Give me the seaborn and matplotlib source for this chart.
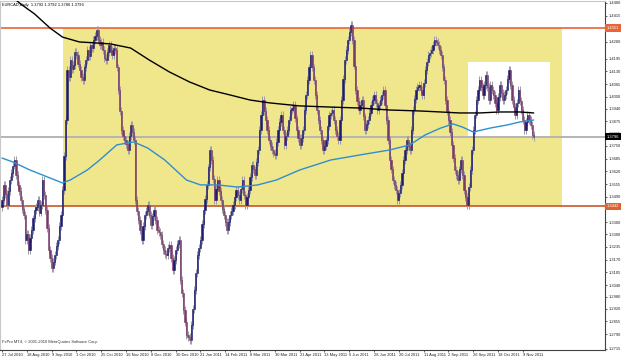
import numpy as np
import pandas as pd
import matplotlib
matplotlib.use("Agg")
import matplotlib.pyplot as plt
import matplotlib.transforms as mtransforms
from matplotlib.patches import Rectangle
import seaborn as sns

# ---------------- data ----------------
symbol_text = "EURCAD,Daily  1.3792 1.3792 1.3786 1.3796"
copyright_text = "FxPro MT4, \u00a9 2001-2010 MetaQuotes Software Corp."

first_open = 1.3440
closes = [
    1.3474, 1.3551, 1.3505, 1.3449, 1.3520, 1.3576, 1.3610, 1.3650, 1.3678, 1.3600, 1.3551, 1.3520, 1.3474, 1.3430, 1.3398, 1.3270,
    1.3300, 1.3219, 1.3280, 1.3321, 1.3380, 1.3423, 1.3440, 1.3474, 1.3410, 1.3449, 1.3576, 1.3500, 1.3423, 1.3330, 1.3219, 1.3180,
    1.3127, 1.3160, 1.3194, 1.3240, 1.3270, 1.3340, 1.3398, 1.3525, 1.3700, 1.3882, 1.4137, 1.4100, 1.4188, 1.4140, 1.4163, 1.4230,
    1.4214, 1.4170, 1.4137, 1.4100, 1.4086, 1.4150, 1.4188, 1.4239, 1.4210, 1.4265, 1.4250, 1.4290, 1.4310, 1.4341, 1.4290, 1.4265,
    1.4280, 1.4239, 1.4200, 1.4188, 1.4230, 1.4265, 1.4240, 1.4214, 1.4250, 1.4239, 1.4150, 1.4035, 1.3930, 1.3831, 1.3800, 1.3780,
    1.3760, 1.3729, 1.3800, 1.3857, 1.3820, 1.3780, 1.3474, 1.3420, 1.3372, 1.3320, 1.3270, 1.3340, 1.3398, 1.3420, 1.3449, 1.3400,
    1.3347, 1.3390, 1.3423, 1.3370, 1.3321, 1.3310, 1.3296, 1.3250, 1.3219, 1.3200, 1.3194, 1.3230, 1.3245, 1.3180, 1.3117, 1.3170,
    1.3219, 1.3250, 1.3270, 1.3066, 1.3000, 1.2913, 1.2850, 1.2786, 1.2775, 1.2760, 1.2837, 1.2920, 1.3015, 1.3100, 1.3194, 1.3230,
    1.3270, 1.3350, 1.3423, 1.3480, 1.3551, 1.3640, 1.3729, 1.3678, 1.3580, 1.3474, 1.3530, 1.3576, 1.3520, 1.3474, 1.3430, 1.3398,
    1.3360, 1.3321, 1.3360, 1.3398, 1.3420, 1.3449, 1.3490, 1.3525, 1.3500, 1.3474, 1.3530, 1.3576, 1.3500, 1.3449, 1.3490, 1.3525,
    1.3590, 1.3653, 1.3630, 1.3602, 1.3670, 1.3729, 1.3831, 1.3910, 1.3984, 1.3930, 1.3882, 1.3830, 1.3780, 1.3750, 1.3729, 1.3715,
    1.3704, 1.3770, 1.3831, 1.3870, 1.3908, 1.3830, 1.3755, 1.3800, 1.3831, 1.3880, 1.3933, 1.3945, 1.3959, 1.3890, 1.3831, 1.3790,
    1.3755, 1.3790, 1.3831, 1.3933, 1.4010, 1.4086, 1.4150, 1.4214, 1.4150, 1.4086, 1.4010, 1.3933, 1.3880, 1.3831, 1.3780, 1.3729,
    1.3750, 1.3780, 1.3850, 1.3908, 1.3920, 1.3933, 1.3880, 1.3831, 1.3800, 1.3780, 1.3880, 1.3984, 1.4090, 1.4188, 1.4240, 1.4290,
    1.4330, 1.4367, 1.4290, 1.4160, 1.4035, 1.3980, 1.3933, 1.3960, 1.3984, 1.3900, 1.3831, 1.3860, 1.3882, 1.3920, 1.3959, 1.3985,
    1.4010, 1.3970, 1.3933, 1.3960, 1.3984, 1.4010, 1.4035, 1.3960, 1.3882, 1.3780, 1.3678, 1.3630, 1.3576, 1.3550, 1.3525, 1.3474,
    1.3510, 1.3551, 1.3610, 1.3678, 1.3730, 1.3780, 1.3750, 1.3729, 1.3830, 1.3933, 1.3990, 1.4035, 1.4050, 1.4061, 1.4035, 1.4010,
    1.4070, 1.4137, 1.4180, 1.4214, 1.4225, 1.4239, 1.4265, 1.4290, 1.4280, 1.4265, 1.4240, 1.4214, 1.4150, 1.4086, 1.3984, 1.3930,
    1.3882, 1.3820, 1.3755, 1.3690, 1.3627, 1.3600, 1.3576, 1.3630, 1.3678, 1.3600, 1.3525, 1.3490, 1.3449, 1.3540, 1.3627, 1.3730,
    1.3831, 1.3910, 1.3984, 1.4035, 1.4086, 1.4050, 1.4010, 1.4060, 1.4112, 1.4050, 1.3984, 1.4061, 1.4035, 1.4010, 1.3970, 1.3933,
    1.4000, 1.4061, 1.4020, 1.3984, 1.4010, 1.4035, 1.4090, 1.4137, 1.4060, 1.3984, 1.3950, 1.3908, 1.3970, 1.4035, 1.3980, 1.3933,
    1.3880, 1.3831, 1.3870, 1.3908, 1.3880, 1.3857, 1.3806, 1.3796,
]

date_labels = ["27 Jul 2010", "18 Aug 2010", "9 Sep 2010", "1 Oct 2010", "25 Oct 2010",
               "16 Nov 2010", "8 Dec 2010", "30 Dec 2010", "21 Jan 2011", "14 Feb 2011",
               "8 Mar 2011", "30 Mar 2011", "21 Apr 2011", "13 May 2011", "6 Jun 2011",
               "28 Jun 2011", "20 Jul 2011", "11 Aug 2011", "2 Sep 2011", "26 Sep 2011",
               "18 Oct 2011", "9 Nov 2011"]
date_label_bars = [0, 16, 32, 48, 64, 80, 96, 112, 128, 144, 160, 176, 192, 208,
                   224, 240, 256, 272, 288, 304, 320, 336]

ma_black_bars = [0, 12, 21, 31, 39, 50, 61, 70, 83, 95, 108, 121, 134, 147, 160,
                 173, 192, 212, 231, 250, 270, 283, 295, 308, 321, 334, 343]
ma_black_vals = [1.4555, 1.4474, 1.4423, 1.4351, 1.4305, 1.4280, 1.4275, 1.4270, 1.4249,
                 1.4188, 1.4127, 1.4076, 1.4035, 1.4010, 1.3984, 1.3969, 1.3954, 1.3948,
                 1.3943, 1.3933, 1.3928, 1.3923, 1.3918, 1.3918, 1.3923, 1.3923, 1.3918]

ma_blue_bars = [0, 7, 18, 26, 39, 44, 55, 63, 74, 81, 85, 94, 105, 119, 128, 139, 152,
                165, 177, 192, 212, 231, 250, 263, 273, 283, 291, 297, 304, 315, 326, 334, 343]
ma_blue_vals = [1.3688, 1.3668, 1.3627, 1.3602, 1.3561, 1.3576, 1.3627, 1.3678, 1.3755,
                1.3765, 1.3770, 1.3739, 1.3678, 1.3576, 1.3551, 1.3551, 1.3540, 1.3551,
                1.3576, 1.3627, 1.3678, 1.3704, 1.3729, 1.3755, 1.3806, 1.3841, 1.3862,
                1.3846, 1.3821, 1.3841, 1.3857, 1.3872, 1.3882]

zone_bars = [39.4, 361.0]
zone_prices = [1.3442, 1.4351]
box_bars = [300.6, 353.5]
box_prices = [1.3800, 1.4178]
level_prices = [1.4351, 1.3442]
bid_price = 1.3796

ytick_labels = ["1.4480", "1.4415", "1.4280", "1.4195", "1.4130", "1.4065", "1.4000",
                "1.3940", "1.3875", "1.3815", "1.3750", "1.3685", "1.3620", "1.3555",
                "1.3490", "1.3360", "1.3300", "1.3235", "1.3170", "1.3105",
                "1.3040", "1.2980", "1.2920", "1.2855", "1.2790", "1.2715"]

# ---------------- style ----------------
sns.set_style("white")
plt.rcParams['font.family'] = ['Liberation Sans', 'DejaVu Sans']

BULL = '#1c1c70'
BEAR = '#7a3a68'
WICK = '#9c9ca6'
ZONE = '#f0e68c'
LEVEL_TOP = '#e8643a'
LEVEL_BOT = '#c8552a'
WICK_PAD = 0.0020
FS = 2.9

df = pd.DataFrame({'bar': np.arange(len(closes)), 'close': closes})
df['open'] = [first_open] + closes[:-1]
df['top'] = df[['open', 'close']].max(axis=1)
df['bot'] = df[['open', 'close']].min(axis=1)
df['color'] = np.where(df['close'] >= df['open'], BULL, BEAR)

fig = plt.figure(figsize=(6.25, 3.6), dpi=100)
ax = fig.add_axes([0.0, 10 / 360, 605 / 625, 349 / 360])
ax.set_facecolor('white')

# zones
ax.add_patch(Rectangle((zone_bars[0], zone_prices[0]), zone_bars[1] - zone_bars[0],
                       zone_prices[1] - zone_prices[0], facecolor=ZONE, edgecolor='none', zorder=0))
ax.add_patch(Rectangle((box_bars[0], box_prices[0]), box_bars[1] - box_bars[0],
                       box_prices[1] - box_prices[0], facecolor='white', edgecolor='none', zorder=0.5))

# levels
ax.axhline(level_prices[0], color=LEVEL_TOP, lw=1.2, zorder=1)
ax.axhline(level_prices[1], color=LEVEL_BOT, lw=1.2, zorder=1)
ax.axhline(bid_price, color='#b4b4b4', lw=1.4, zorder=1)

# candles
ax.vlines(df['bar'], df['bot'] - WICK_PAD, df['top'] + WICK_PAD, color=WICK, lw=0.7, zorder=2)
ax.bar(df['bar'], df['top'] - df['bot'], bottom=df['bot'], width=0.8,
       color=df['color'], edgecolor=df['color'], linewidth=0.4, zorder=3)

# moving averages
sns.lineplot(x=ma_black_bars, y=ma_black_vals, ax=ax, color='black', lw=1.0, zorder=4)
sns.lineplot(x=ma_blue_bars, y=ma_blue_vals, ax=ax, color='#2e8fd0', lw=1.0, zorder=4)

ax.set_xlim(-1.3, 389)
ax.set_ylim(1.2709, 1.4489)

# axes ticks
ax.yaxis.tick_right()
ax.set_yticks([float(v) for v in ytick_labels])
ax.set_yticklabels(ytick_labels, fontsize=FS, color='#222222')
ax.set_xticks(date_label_bars)
ax.set_xticklabels(date_labels, fontsize=FS, ha='left', color='#222222')
ax.tick_params(axis='y', direction='out', length=1.5, width=0.5, pad=1.2, right=True, left=False)
ax.tick_params(axis='x', direction='out', length=1.5, width=0.5, pad=0.8, bottom=True)
ax.set_xlabel('')
ax.set_ylabel('')

for side in ['left', 'top']:
    ax.spines[side].set_color('#c8c8c8')
    ax.spines[side].set_linewidth(0.8)
for side in ['right', 'bottom']:
    ax.spines[side].set_color('#404040')
    ax.spines[side].set_linewidth(0.8)

# price labels
trans = mtransforms.blended_transform_factory(ax.transAxes, ax.transData)
for lvl, col in zip(level_prices, ['#e8643a', '#e06030']):
    ax.text(1.003, lvl, f"{lvl:.4f}", transform=trans, fontsize=FS, color='white',
            va='center', ha='left', clip_on=False, zorder=6,
            bbox=dict(boxstyle='square,pad=0.4', fc=col, ec='none'))
ax.text(1.003, bid_price, f"{bid_price:.4f}", transform=trans, fontsize=FS, color='white',
        va='center', ha='left', clip_on=False, zorder=6,
        bbox=dict(boxstyle='square,pad=0.4', fc='black', ec='none'))

# texts
ax.text(0.004, 0.993, symbol_text, transform=ax.transAxes, fontsize=FS,
        color='black', va='top', ha='left', zorder=7)
ax.text(0.004, 0.018, copyright_text, transform=ax.transAxes, fontsize=FS,
        color='#333333', va='bottom', ha='left', zorder=7)

fig.savefig('out.png', dpi=100)
